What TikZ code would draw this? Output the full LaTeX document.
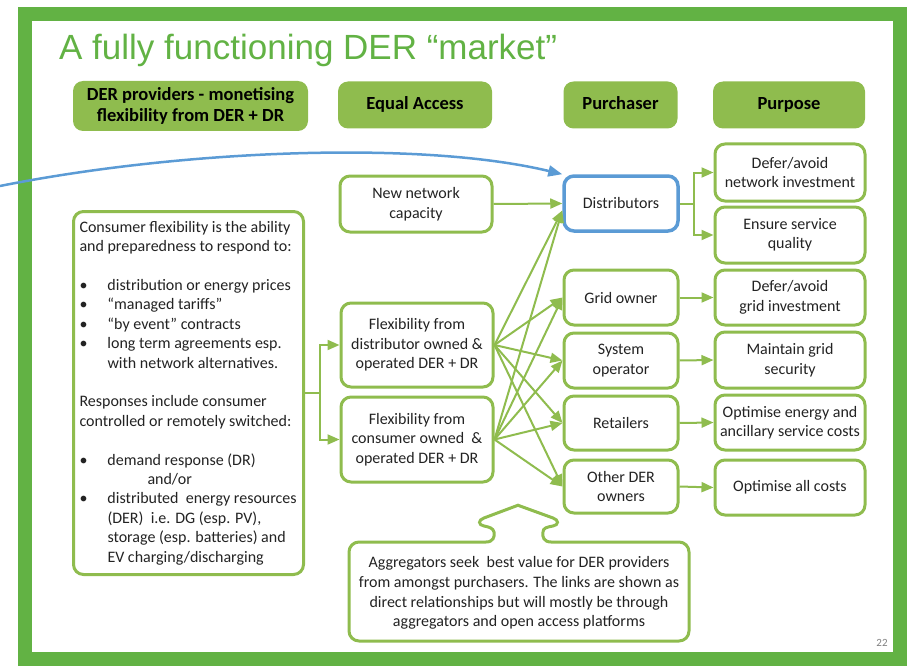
\documentclass[tikz,border=0pt]{standalone}
\usepackage{fontspec}
\setmainfont{Carlito}
\newfontfamily\titlefont{Liberation Sans}
\usetikzlibrary{arrows.meta}

\definecolor{framegreen}{RGB}{98,178,68}
\definecolor{boxgreen}{RGB}{143,188,78}
\definecolor{linkblue}{RGB}{91,155,213}
\definecolor{textgray}{RGB}{35,35,35}

\newcommand{\bulitem}{\makebox[28pt][l]{\textbullet}}

\begin{document}
\begin{tikzpicture}[x=1pt,y=-1pt,>={Triangle[length=12pt,width=10pt]},
  box/.style={draw=boxgreen,line width=3pt,rounded corners=10pt,fill=white,
    align=center,text=textgray,inner sep=1pt,font=\fontsize{16}{19.5}\selectfont},
  head/.style={fill=boxgreen,rounded corners=10pt,align=center,inner sep=1pt,
    font=\fontsize{18.5}{21.5}\selectfont\bfseries},
  headone/.style={head,text height=13pt,text depth=4pt},
  link/.style={->,draw=boxgreen,line width=2pt}]

\useasboundingbox (0,0) rectangle (910,666);

% slide frame and title
\draw[framegreen,line width=14pt] (25,14) rectangle (900,659);
\node[anchor=base west,inner sep=0pt,text=framegreen,
  font=\titlefont\fontsize{35}{40}\selectfont] (title) at (59,60)
  {A fully functioning DER “market”};

% column heads
\node[head,minimum width=235pt,minimum height=50pt] (provhead) at (190.5,106)
  {DER providers - monetising\\flexibility from DER + DR};
\node[headone,minimum width=154pt,minimum height=47pt] (accesshead) at (415,105) {Equal Access};
\node[headone,minimum width=114pt,minimum height=47pt] (buyhead) at (620.5,105) {Purchaser};
\node[headone,minimum width=152pt,minimum height=47pt] (aimhead) at (789,105) {Purpose};

% providers
\node[box,anchor=north west,align=flush left,text width=218pt,inner xsep=6pt,
  minimum height=363pt,font=\fontsize{16}{19.4}\selectfont] (consumer) at (72,210) {%
Consumer flexibility is the ability\\
and preparedness to respond to:\\[19.4pt]
\bulitem distribution or energy prices\\
\bulitem “managed tariffs”\\
\bulitem “by event” contracts\\
\bulitem long term agreements esp.\\
\hspace*{28pt}with network alternatives.\\[19.4pt]
Responses include consumer\\
controlled or remotely switched:\\[19.4pt]
\bulitem demand response (DR)\\
\hspace*{68pt}and/or\\
\bulitem distributed\ \ energy resources\\
\hspace*{28pt}(DER)\ \ i.e. DG (esp. PV),\\
\hspace*{28pt}storage (esp. batteries) and\\
\hspace*{28pt}EV charging/discharging};

% equal access
\node[box,minimum width=152pt,minimum height=56pt] (newcap) at (416,204)
  {New network\\capacity};
\node[box,minimum width=152pt,minimum height=84pt] (flexdist) at (417,345)
  {Flexibility from\\distributor owned \&\\operated DER + DR};
\node[box,minimum width=152pt,minimum height=85pt] (flexcons) at (417,439.5)
  {Flexibility from\\consumer owned\ \ \&\\operated DER + DR};

% purchasers
\node[box,draw=linkblue,line width=3.5pt,minimum width=114pt,minimum height=55pt]
  (dist) at (621,203.5) {Distributors};
\node[box,minimum width=114pt,minimum height=55pt] (gridown) at (621,297.5) {Grid owner};
\node[box,minimum width=114pt,minimum height=55pt] (sysop) at (621,360.5) {System\\operator};
\node[box,minimum width=114pt,minimum height=54pt] (retail) at (621,423) {Retailers};
\node[box,minimum width=114pt,minimum height=53pt] (otherder) at (621,486.5) {Other DER\\owners};

% purposes
\node[box,minimum width=150pt,minimum height=57pt] (defnet) at (790,172.5)
  {Defer/avoid\\network investment};
\node[box,minimum width=150pt,minimum height=56pt] (service) at (790,235)
  {Ensure service\\quality};
\node[box,minimum width=150pt,minimum height=55pt] (defgrid) at (790,297.5)
  {Defer/avoid\\grid investment};
\node[box,minimum width=150pt,minimum height=56pt] (security) at (790,360)
  {Maintain grid\\security};
\node[box,minimum width=150pt,minimum height=55pt] (optenergy) at (790,422.5)
  {Optimise energy and\\ancillary service costs};
\node[box,minimum width=150pt,minimum height=55pt] (optall) at (790,487.5)
  {Optimise all costs};

% links
\draw[link] (consumer.east) -- ++(15,0) |- (flexdist.west);
\draw[link] (consumer.east) -- ++(15,0) |- (flexcons.west);
\draw[link] (newcap.east) -- (dist.west);
\foreach \src in {flexdist,flexcons}{
  \draw[link] (\src.east) -- ([yshift=-7pt]dist.west);
  \foreach \dst in {gridown,sysop,retail,otherder}
    \draw[link] (\src.east) -- (\dst.west);
}
\draw[link] (dist.east) -- ++(14,0) |- (defnet.west);
\draw[link] (dist.east) -- ++(14,0) |- (service.west);
\foreach \a/\b in {gridown/defgrid,sysop/security,retail/optenergy,otherder/optall}
  \draw[link] (\a.east) -- (\b.west);

% aggregator callout
\draw[boxgreen,line width=3pt,fill=white]
  (486,542) .. controls (493,542) and (495,537) .. (494,532)
  .. controls (493,528) and (489,527) .. (484,526)
  .. controls (478,525) and (478,520) .. (484,518)
  -- (516,506) .. controls (518,505) .. (520,506) -- (553,518)
  .. controls (559,520) and (559,525) .. (553,526)
  .. controls (547,527) and (543,528) .. (543,532)
  .. controls (542,537) and (544,542) .. (551,542)
  [rounded corners=10pt] -- (689,542) -- (689,641) -- (349,641) -- (349,542)
  [sharp corners] -- cycle;
\node[align=center,text=textgray,font=\fontsize{16}{19.7}\selectfont] (aggtext)
  at (519,593) {Aggregators seek\ \ best value for DER providers\\
  from amongst purchasers. The links are shown as\\
  direct relationships but will mostly be through\\
  aggregators and open access platforms};

\node[text=gray,font=\fontsize{11}{13}\selectfont] (pageno) at (882,643) {22};

% pointer to distributors
\coordinate (bluestart) at (0,186);
\draw[->,linkblue,line width=2.5pt,>={Triangle[length=14pt,width=11pt]}]
  (bluestart) .. controls (180,150) and (420,140) .. (dist.north west);

\end{tikzpicture}
\end{document}
